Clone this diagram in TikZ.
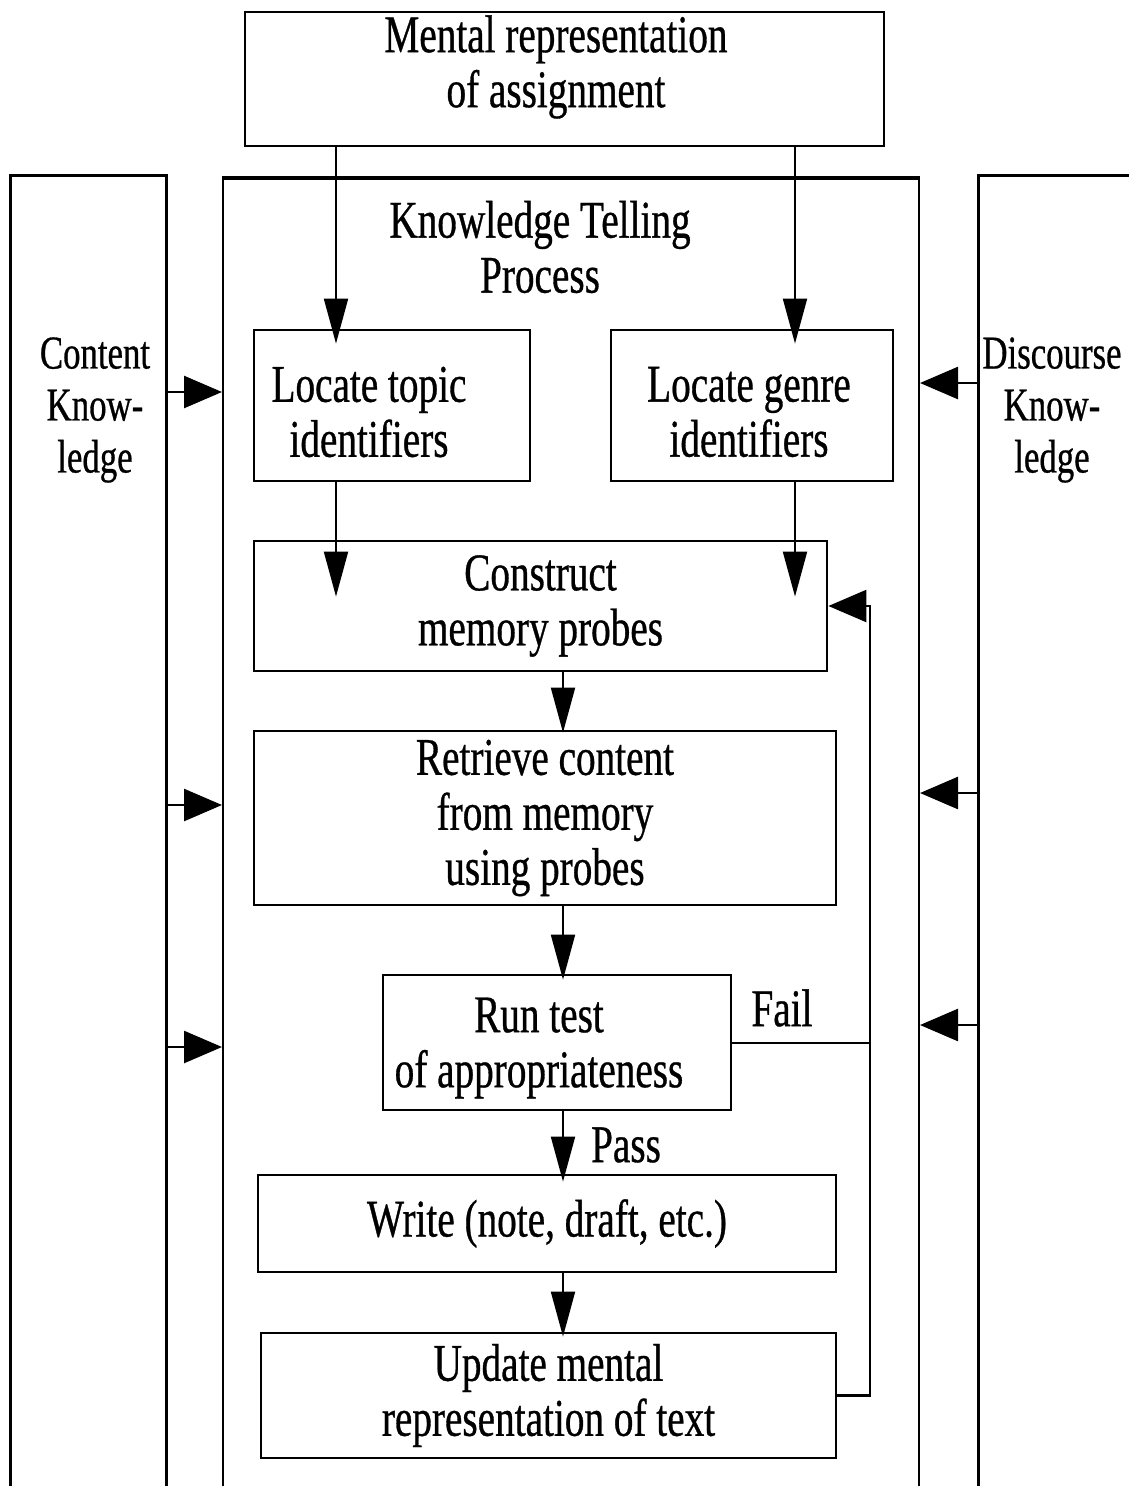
\documentclass[tikz,border=0pt]{standalone}
\usepackage{fontspec}
\setmainfont{Liberation Serif}[FakeStretch=0.74, FakeBold=0.6]
\usetikzlibrary{arrows.meta}

\begin{document}
\begin{tikzpicture}[x=1pt,y=-1pt,
  txt/.style={align=center, inner sep=0pt, font=\fontsize{53}{55}\selectfont},
  sidetxt/.style={align=center, inner sep=0pt, font=\fontsize{47}{52}\selectfont},
  box/.style={txt, draw, line width=2.8pt},
  column/.style={draw, line width=2.6pt, inner sep=0pt},
  flow/.style={line width=2pt, -{Triangle[length=45pt,width=24pt]}},
  side/.style={line width=2.6pt, -{Triangle[length=38pt,width=32pt]}}]

\useasboundingbox[fill=white] (0,0) rectangle (1129,1486);

% outer frames (open at the bottom / right edge of the page)
\node[column, minimum width=156pt, minimum height=1400pt, anchor=north west] (content) at (9,174) {};
\node[column, minimum width=696pt, minimum height=1400pt, anchor=north west, line width=2pt] (telling) at (222,178) {};
\draw[line width=4.5pt] (telling.north west) -- (telling.north east);
\node[column, minimum width=220pt, minimum height=1400pt, anchor=north west] (discourse) at (977,174) {};

% column titles
\node[sidetxt] (contenttxt) at (95,410) {Content\\Know-\\ledge};
\node[sidetxt] (discoursetxt) at (1052,410) {Discourse\\Know-\\ledge};
\node[txt] (tellingtxt) at (540,247) {Knowledge Telling\\Process};

% process boxes
\node[box, minimum width=639pt, minimum height=134pt] (assign) at (564.5,79) {};
\node[txt] (assigntxt) at (556,67) {Mental representation\\of assignment};
\node[box, minimum width=276pt, minimum height=151pt] (topic) at (392,405.5) {};
\node[txt] (topictxt) at (369,412) {Locate topic\\identifiers};
\node[box, minimum width=282pt, minimum height=151pt] (genre) at (752,405.5) {};
\node[txt] (genretxt) at (749,412) {Locate genre\\identifiers};
\node[box, minimum width=573pt, minimum height=130pt] (construct) at (540.5,606) {Construct\\memory probes};
\node[box, minimum width=582pt, minimum height=174pt] (retrieve) at (545,818) {Retrieve content\\from memory\\using probes};
\node[box, minimum width=348pt, minimum height=135pt] (runtest) at (557,1042.5) {};
\node[txt] (runtesttxt) at (539,1048) {Run test\\of appropriateness};
\node[box, minimum width=578pt, minimum height=97pt] (write) at (547,1223.5) {Write (note, draft, etc.)};
\node[box, minimum width=575pt, minimum height=125pt] (update) at (548.5,1395.5) {Update mental\\representation of text};

% columns of the connectors
\coordinate (tx) at (336,0);
\coordinate (gx) at (795,0);
\coordinate (mx) at (563,0);
\coordinate (lx) at (870,0);
\coordinate (l1) at (0,392);
\coordinate (l2) at (0,805);
\coordinate (l3) at (0,1047);
\coordinate (r1) at (0,383);
\coordinate (r2) at (0,793);
\coordinate (r3) at (0,1025);

% main flow
\draw[flow, shorten >=-15pt] (assign.south -| tx) -- (topic.north -| tx);
\draw[flow, shorten >=-15pt] (assign.south -| gx) -- (genre.north -| gx);
\draw[flow, shorten >=-57pt] (topic.south -| tx) -- (construct.north -| tx);
\draw[flow, shorten >=-57pt] (genre.south -| gx) -- (construct.north -| gx);
\draw[flow, shorten >=-3pt] (construct.south -| mx) -- (retrieve.north -| mx);
\draw[flow, shorten >=-6pt] (retrieve.south -| mx) -- (runtest.north -| mx);
\draw[flow, shorten >=-8pt] (runtest.south -| mx) -- (write.north -| mx);
\draw[flow, shorten >=-5pt] (write.south -| mx) -- (update.north -| mx);
\node[txt] (pass) at (626,1145) {Pass};

% feedback loop
\draw[line width=2pt] (runtest.east) -- (runtest.east -| lx);
\node[txt] (fail) at (782,1008) {Fail};
\draw[side, line width=2.4pt] (update.east) -- (update.east -| lx) -- (construct.east -| lx) -- (construct.east);

% knowledge sources feeding the process
\draw[side] (content.east |- l1) -- (telling.west |- l1);
\draw[side] (content.east |- l2) -- (telling.west |- l2);
\draw[side] (content.east |- l3) -- (telling.west |- l3);
\draw[side] (discourse.west |- r1) -- (telling.east |- r1);
\draw[side] (discourse.west |- r2) -- (telling.east |- r2);
\draw[side] (discourse.west |- r3) -- (telling.east |- r3);

\end{tikzpicture}
\end{document}
